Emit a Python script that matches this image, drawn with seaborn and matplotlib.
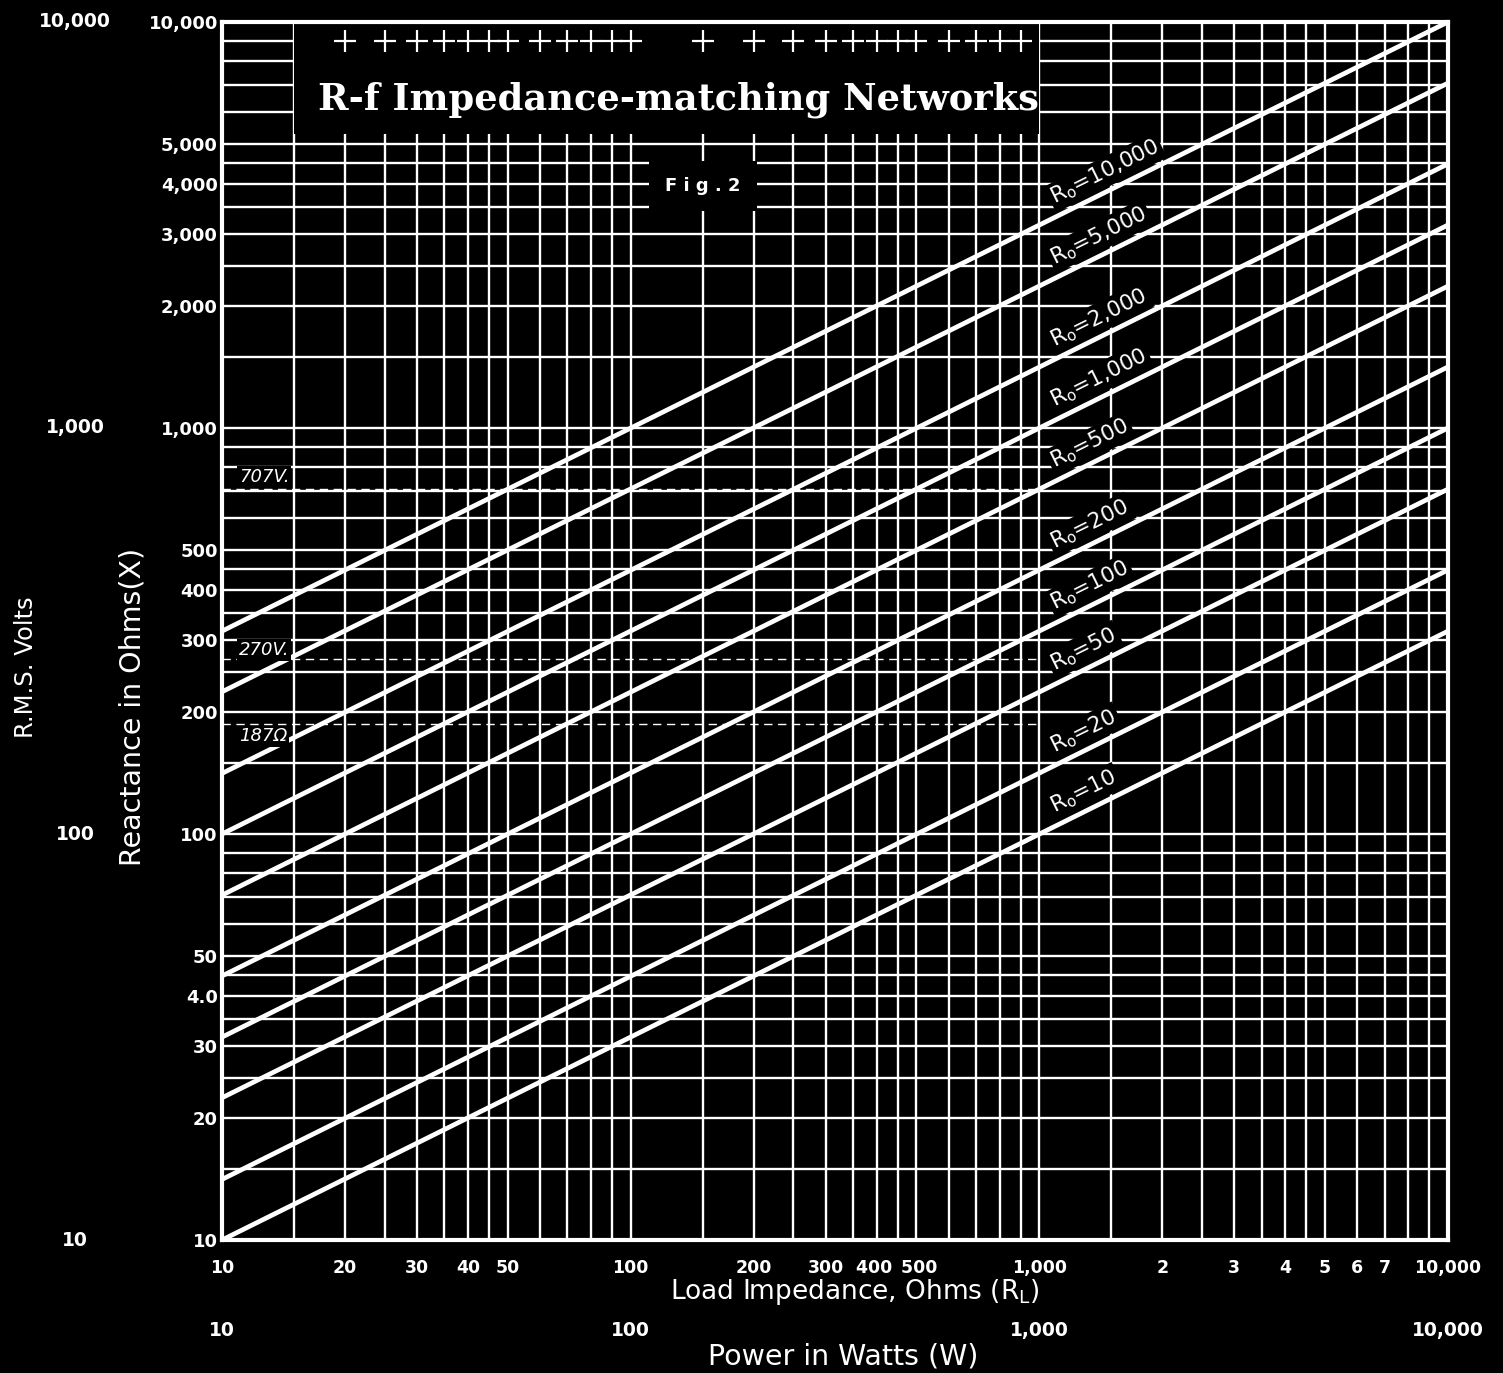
import matplotlib
matplotlib.use("Agg")
import pandas as pd
import matplotlib.pyplot as plt
import matplotlib.ticker as mticker
import matplotlib.transforms as mtransforms
from matplotlib.patches import Rectangle
import seaborn as sns

# --- datos ---
ro_values = [10, 20, 50, 100, 200, 500, 1000, 2000, 5000, 10000]
ro_labels = ['10', '20', '50', '100', '200', '500', '1,000', '2,000', '5,000', '10,000']
load_ends = [10, 10000]
x_at_10 = [10, 14.1, 22.4, 31.6, 44.7, 70.7, 100, 141, 224, 316]
x_at_10000 = [316, 447, 707, 1000, 1414, 2236, 3162, 4472, 7071, 10000]

x_ticks = [10, 20, 30, 40, 50, 100, 200, 300, 400, 500, 1000, 2000, 3000, 4000, 5000, 6000, 7000, 10000]
x_ticklabels = ['10', '20', '30', '40', '50', '100', '200', '300', '400 ', ' 500', '1,000',
                '2', '3', '4', '5', '6', '7', '10,000']
y_ticks = [10, 20, 30, 40, 50, 100, 200, 300, 400, 500, 1000, 2000, 3000, 4000, 5000, 10000]
y_ticklabels = ['10', '20', '30', '4.0', '50', '100', '200', '300', '400', '500',
                '1,000', '2,000', '3,000', '4,000', '5,000', '10,000']
grid_steps = [1, 1.5, 2, 2.5, 3, 3.5, 4, 4.5, 5, 6, 7, 8, 9]
decades = [10, 100, 1000]

volts_ticks = [10, 100, 1000, 10000]
volts_labels = ['10', '100', '1,000', '10,000']
watts_ticks = [10, 100, 1000, 10000]
watts_labels = ['10', '100', '1,000', '10,000']

ref_levels = [707, 270, 187]
ref_labels = ['707V.', '270V.', '187Ω']

# tabla larga para seaborn
filas = []
for ro, a, b in zip(ro_values, x_at_10, x_at_10000):
    filas.append({'ro': ro, 'load': load_ends[0], 'reactance': a})
    filas.append({'ro': ro, 'load': load_ends[1], 'reactance': b})
df = pd.DataFrame(filas)

sns.set_style("dark", {"axes.facecolor": "black", "figure.facecolor": "black"})
plt.rcParams['font.family'] = ['DejaVu Sans']
plt.rcParams['text.color'] = 'white'

fig = plt.figure(figsize=(15.03, 13.73), dpi=100)
ax = fig.add_axes([222 / 1503, 1 - 1240 / 1373, 1226 / 1503, 1218 / 1373])
ax.set_facecolor('black')

sns.lineplot(data=df, x='load', y='reactance', units='ro', estimator=None,
             color='white', linewidth=3.4, ax=ax, zorder=4)

ax.set_xscale('log')
ax.set_yscale('log')
ax.set_xlim(10, 10000)
ax.set_ylim(10, 10000)

# rejilla
grid_vals = [d * s for d in decades for s in grid_steps] + [10000]
ax.xaxis.set_major_locator(mticker.FixedLocator(x_ticks))
ax.xaxis.set_major_formatter(mticker.FixedFormatter(x_ticklabels))
ax.xaxis.set_minor_locator(mticker.FixedLocator([v for v in grid_vals if v not in x_ticks]))
ax.xaxis.set_minor_formatter(mticker.NullFormatter())
ax.yaxis.set_major_locator(mticker.FixedLocator(y_ticks))
ax.yaxis.set_major_formatter(mticker.FixedFormatter(y_ticklabels))
ax.yaxis.set_minor_locator(mticker.FixedLocator([v for v in grid_vals if v not in y_ticks]))
ax.yaxis.set_minor_formatter(mticker.NullFormatter())
ax.grid(which='both', color='white', linewidth=1.7, zorder=1)
ax.tick_params(which='both', length=0, colors='white')
ax.tick_params(axis='x', pad=14, labelsize=12.5)
ax.tick_params(axis='y', pad=3, labelsize=13)
for lab in ax.get_xticklabels() + ax.get_yticklabels():
    lab.set_fontweight('bold')
for sp in ax.spines.values():
    sp.set_color('white')
    sp.set_linewidth(3)
    sp.set_zorder(10)
ax.set_xlabel('')
ax.set_ylabel('')

# caja del titulo con cruces
ax.add_patch(Rectangle((15, 5300), 1000 - 15, 9900 - 5300, facecolor='black',
                       edgecolor='none', zorder=2.5))
cruces = [v for v in grid_vals if 20 <= v <= 900]
ax.scatter(cruces, [9000] * len(cruces), marker='+', s=260, color='white',
           linewidths=1.6, zorder=3)
ax.text(0.372, 0.936, 'R-f Impedance-matching Networks', transform=ax.transAxes,
        ha='center', va='center', fontsize=26.5, fontweight='bold',
        family='DejaVu Serif', color='white', zorder=5)
ax.text(150, 3950, 'F i g . 2', ha='center', va='center', fontsize=13, fontweight='bold',
        color='white', zorder=5,
        bbox=dict(boxstyle='square,pad=0.9', facecolor='black', edgecolor='none'))

# etiquetas de las rectas
x_lab = 1107
for ro, lab, a, b in zip(ro_values, ro_labels, x_at_10, x_at_10000):
    y_lab = a * (x_lab / 10) ** 0.5 * 1.04
    ax.text(x_lab, y_lab, r'R$_\mathregular{o}$=' + lab, rotation=26.4,
            rotation_mode='anchor', ha='left', va='bottom', fontsize=15.5,
            color='white', zorder=6,
            bbox=dict(boxstyle='square,pad=0.12', facecolor='black', edgecolor='none'))

# lineas de referencia de tension
ax.hlines(ref_levels, 10, 1000, colors='white', linestyles=(0, (6, 4)),
          linewidth=1.0, zorder=3)
ref_offsets = [1.07, 1.05, 0.93]
for lvl, lab, off in zip(ref_levels, ref_labels, ref_offsets):
    ax.text(11, lvl * off, lab, ha='left', va='center', fontsize=13,
            fontstyle='italic', color='white', zorder=6,
            bbox=dict(boxstyle='square,pad=0.1', facecolor='black', edgecolor='none'))

# eje exterior de voltios
trans_y = mtransforms.blended_transform_factory(ax.transAxes, ax.transData)
for v, lab in zip(volts_ticks, volts_labels):
    ax.text(-0.12, v, lab, transform=trans_y, ha='center', va='center',
            fontsize=13.5, fontweight='bold', color='white')

# eje de potencia
trans_x = mtransforms.blended_transform_factory(ax.transData, ax.transAxes)
for w, lab in zip(watts_ticks, watts_labels):
    ax.text(w, -0.074, lab, transform=trans_x, ha='center', va='center',
            fontsize=13.5, fontweight='bold', color='white')

fig.text(855 / 1503, 1 - 1292 / 1373, r'Load Impedance, Ohms (R$_\mathregular{L}$)',
         ha='center', va='center', fontsize=19, color='white')
fig.text(843 / 1503, 1 - 1357 / 1373, 'Power in Watts (W)',
         ha='center', va='center', fontsize=20.5, color='white')
fig.text(133 / 1503, 1 - 707 / 1373, 'Reactance in Ohms(X)', rotation=90,
         ha='center', va='center', fontsize=20.5, color='white')
fig.text(26 / 1503, 1 - 667 / 1373, 'R.M.S. Volts', rotation=90,
         ha='center', va='center', fontsize=17.5, color='white')

fig.savefig('out.png', dpi=100, facecolor='black')
plt.close(fig)
